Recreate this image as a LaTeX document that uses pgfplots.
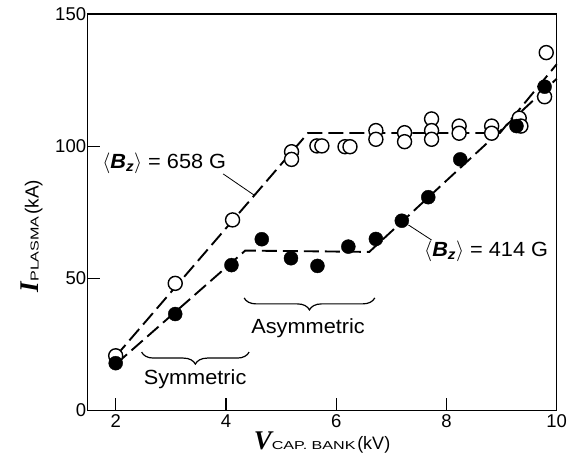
\documentclass[border=0pt]{standalone}
\usepackage{pgfplots}
\pgfplotsset{compat=1.18}
\usetikzlibrary{decorations.pathreplacing}
\usepackage{fontspec}
\setmainfont{Liberation Sans}
\newfontfamily\serifI{Liberation Serif}
\newfontfamily\widesans[FakeStretch=1.4]{Liberation Sans}
\newfontfamily\annfont[FakeStretch=1.06]{Liberation Sans}

\pgfplotstableread{
x y
2.00 20.7
3.08 48.1
4.12 72.1
5.19 97.9
5.19 95.0
5.65 100.1
5.74 100.1
6.16 99.8
6.25 99.8
6.72 105.9
6.72 102.6
7.24 105.1
7.24 101.7
7.73 110.3
7.73 105.9
7.73 102.6
8.23 107.6
8.23 104.9
8.82 107.6
8.82 104.9
9.32 110.6
9.35 107.6
9.81 135.4
9.78 118.7
}\openpts

\pgfplotstableread{
x y
2.00 17.9
3.08 36.5
4.10 55.0
4.65 64.8
5.18 57.6
5.66 54.7
6.22 62.0
6.72 64.9
7.19 71.8
7.67 80.7
8.25 95.0
9.27 107.6
9.78 122.5
}\filledpts

\begin{document}
\begin{tikzpicture}
\begin{axis}[
  name=ax,
  scale only axis, width=469.4pt, height=396.5pt,
  xmin=1.485, xmax=10, ymin=0, ymax=150,
  xtick={2,4,6,8,10}, ytick={0,50,100,150},
  tick align=inside, xtick pos=bottom, ytick pos=left,
  major tick length=13pt,
  every tick/.style={black, line width=1.3pt},
  axis line style={line width=1.5pt},
  tick label style={font=\fontsize{18.5}{20}\selectfont},
  /pgf/number format/assume math mode=true,
  yticklabel style={inner sep=1pt},
  xticklabel style={inner sep=1pt, yshift=-3pt},
  clip=false,
]
% fitted lines
\addplot[black, line width=1.9pt, dash pattern=on 15pt off 6pt] coordinates {(2.0,20.5)(5.49,105)(8.97,105)(10,131)};
\addplot[black, line width=1.9pt, dash pattern=on 15pt off 6pt] coordinates {(2.0,17.5)(4.35,60.5)(6.6,60)(10,125.5)};
% data
\addplot[only marks, mark=*, mark size=7pt, mark options={fill=white, draw=black, line width=1.4pt}] table[x=x,y=y] {\openpts};
\addplot[only marks, mark=*, mark size=7pt, mark options={fill=black, draw=black}] table[x=x,y=y] {\filledpts};
% leaders
\draw[line width=0.8pt] (axis cs:3.95,89.5) -- (axis cs:4.51,81.5);
\draw[line width=0.8pt] (axis cs:7.31,70.2) -- (axis cs:7.73,64.5);
% labels
\node[font=\fontsize{20.5}{22}\selectfont\annfont, inner sep=0pt] at (axis cs:2.88,93.6)
  {\(\Big\langle\)\textbf{\textit{B}}\textsubscript{\textbf{\textit{z}}}\(\Big\rangle\) = 658 G};
\node[font=\fontsize{20.5}{22}\selectfont\annfont, inner sep=0pt] at (axis cs:8.72,60.3)
  {\(\Big\langle\)\textbf{\textit{B}}\textsubscript{\textbf{\textit{z}}}\(\Big\rangle\) = 414 G};
% braces
\draw[line width=1.2pt, decorate, decoration={brace, amplitude=12pt, mirror}] (axis cs:2.47,22.1) -- (axis cs:4.42,22.1);
\draw[line width=1.2pt, decorate, decoration={brace, amplitude=12pt, mirror}] (axis cs:4.33,42.6) -- (axis cs:6.70,42.6);
\node[font=\fontsize{20.5}{22}\selectfont\annfont] at (axis cs:3.44,12) {Symmetric};
\node[font=\fontsize{20.5}{22}\selectfont\annfont] at (axis cs:5.49,31) {Asymmetric};
% axis labels
\node[rotate=90, inner sep=0pt] at (rel axis cs:-0.1185,0.44)
  {{\fontsize{27}{27}\selectfont\serifI\bfseries\itshape I}{\fontsize{11.5}{12}\selectfont\widesans PLASMA}\,{\fontsize{19}{20}\selectfont(kA)}};
\node[inner sep=0pt] at (rel axis cs:0.5,-0.082)
  {{\fontsize{27}{27}\selectfont\serifI\bfseries\itshape V}{\fontsize{11.5}{12}\selectfont\widesans CAP. BANK}\,{\fontsize{18}{20}\selectfont(kV)}};
\end{axis}
\pgfresetboundingbox
\path ([shift={(-87.3pt,-48.5pt)}]ax.south west) rectangle ([shift={(487.7pt,410.5pt)}]ax.south west);
\end{tikzpicture}
\end{document}
